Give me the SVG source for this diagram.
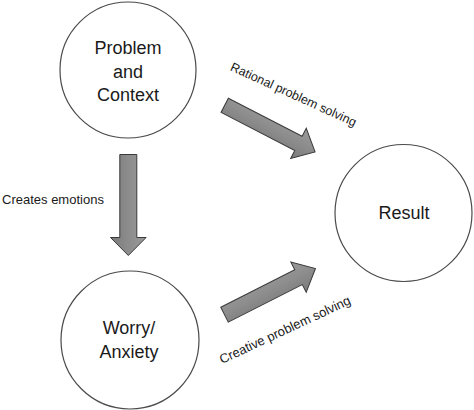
<svg xmlns="http://www.w3.org/2000/svg" width="474" height="410" viewBox="0 0 474 410">
<style>
.node circle{fill:#fff;stroke:#4a4a4a;stroke-width:1.2}
.big{font-family:"Liberation Sans",Arial,sans-serif;font-size:18px;fill:#1a1a1a;text-anchor:middle}
.lbl{font-family:"Liberation Sans",Arial,sans-serif;font-size:12.5px;fill:#1a1a1a}
.arr{fill:url(#g);stroke:#3a3a3a;stroke-width:1}
</style>
<defs>
<linearGradient id="g" x1="0" y1="0" x2="0" y2="1">
<stop offset="0" stop-color="#9a9a9a"/>
<stop offset="0.5" stop-color="#8c8c8c"/>
<stop offset="1" stop-color="#7a7a7a"/>
</linearGradient>
</defs>
<rect width="474" height="410" fill="#fff"/>
<g id="problem" class="node">
<circle cx="128" cy="70" r="68"/>
<text class="big" x="128" y="54">Problem</text>
<text class="big" x="128" y="78">and</text>
<text class="big" x="128" y="101">Context</text>
</g>
<g id="worry" class="node">
<circle cx="130" cy="340" r="69"/>
<text class="big" x="129" y="334">Worry/</text>
<text class="big" x="129" y="358">Anxiety</text>
</g>
<g id="result" class="node">
<circle cx="403.5" cy="213" r="68.5"/>
<text class="big" x="404" y="219">Result</text>
</g>
<g id="connectors">
<path class="arr" transform="translate(128.3,154.5) rotate(90)" d="M0,-8.5 L83,-8.5 L83,-17.8 L101,0 L83,17.8 L83,8.5 L0,8.5 Z"/>
<path class="arr" transform="translate(224.7,105.3) rotate(27.3)" d="M0,-8 L83,-8 L83,-17 L101.7,0 L83,17 L83,8 L0,8 Z"/>
<path class="arr" transform="translate(224.5,314.7) rotate(-26.9)" d="M0,-8.3 L83,-8.3 L83,-17 L102,0 L83,17 L83,8.3 L0,8.3 Z"/>
<text class="lbl" x="2" y="204" style="font-size:13px">Creates emotions</text>
<text class="lbl" transform="translate(229.5,70) rotate(24.5)">Rational problem solving</text>
<text class="lbl" transform="translate(222,364) rotate(-25)" style="font-size:13px">Creative problem solving</text>
</g>
</svg>
